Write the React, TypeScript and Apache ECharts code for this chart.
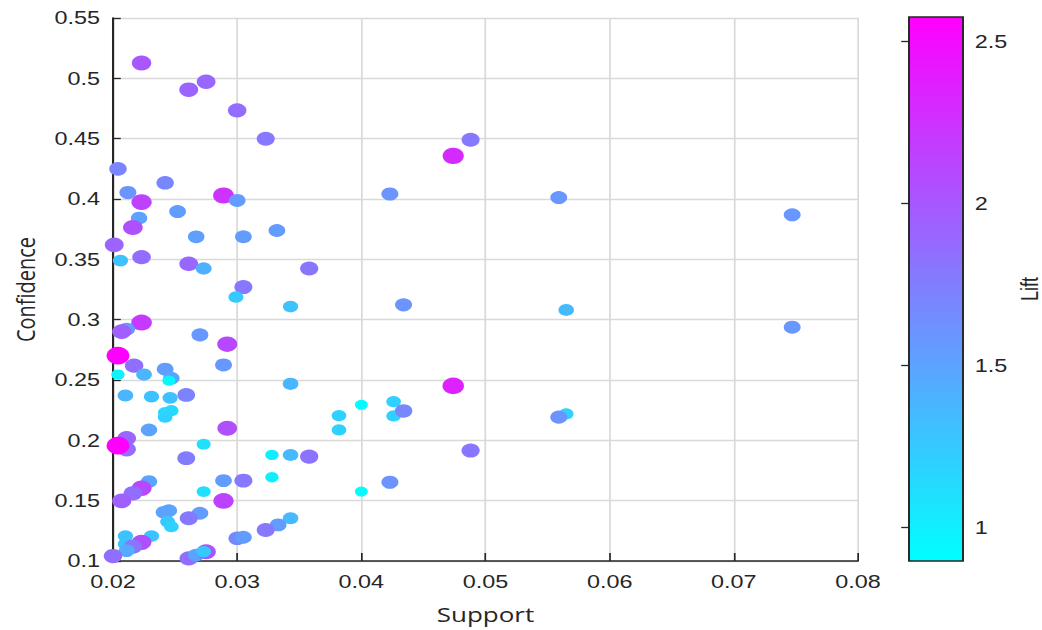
import React, { useEffect, useRef } from "react";
import * as echarts from "echarts";

const support = [
  0.0223, 0.0261, 0.0275, 0.0300, 0.0323, 0.0488, 0.0474, 0.0204, 0.0212, 0.0242,
  0.0223, 0.0289, 0.0300, 0.0423, 0.0559, 0.0747, 0.0221, 0.0252, 0.0216, 0.0267,
  0.0305, 0.0332, 0.0201, 0.0206, 0.0223, 0.0261, 0.0273, 0.0358, 0.0305, 0.0299,
  0.0343, 0.0434, 0.0565, 0.0747, 0.0223, 0.0211, 0.0207, 0.0270, 0.0292, 0.0204,
  0.0217, 0.0289, 0.0204, 0.0225, 0.0242, 0.0247, 0.0245, 0.0343, 0.0474, 0.0210,
  0.0231, 0.0246, 0.0259, 0.0400, 0.0426, 0.0382, 0.0426, 0.0434, 0.0382, 0.0565,
  0.0559, 0.0247, 0.0242, 0.0242, 0.0229, 0.0292, 0.0211, 0.0211, 0.0204, 0.0273,
  0.0328, 0.0343, 0.0358, 0.0488, 0.0259, 0.0328, 0.0289, 0.0305, 0.0229, 0.0223,
  0.0216, 0.0273, 0.0423, 0.0400, 0.0207, 0.0289, 0.0245, 0.0241, 0.0244, 0.0247,
  0.0270, 0.0261, 0.0343, 0.0333, 0.0323, 0.0300, 0.0305, 0.0210, 0.0231, 0.0223,
  0.0210, 0.0216, 0.0211, 0.0200, 0.0261, 0.0267, 0.0275, 0.0273,
];

const confidence = [
  0.5127, 0.4906, 0.4972, 0.4734, 0.4499, 0.4491, 0.4358, 0.4250, 0.4054, 0.4134,
  0.3974, 0.4029, 0.3988, 0.4041, 0.4012, 0.3869, 0.3842, 0.3896, 0.3764, 0.3687,
  0.3687, 0.3739, 0.3620, 0.3490, 0.3518, 0.3463, 0.3424, 0.3424, 0.3270, 0.3187,
  0.3109, 0.3123, 0.3081, 0.2938, 0.2976, 0.2921, 0.2901, 0.2874, 0.2797, 0.2702,
  0.2619, 0.2625, 0.2545, 0.2545, 0.2590, 0.2515, 0.2495, 0.2468, 0.2451, 0.2371,
  0.2362, 0.2352, 0.2376, 0.2294, 0.2321, 0.2205, 0.2202, 0.2244, 0.2086, 0.2219,
  0.2192, 0.2246, 0.2230, 0.2192, 0.2086, 0.2100, 0.2017, 0.1926, 0.1956, 0.1968,
  0.1879, 0.1879, 0.1865, 0.1915, 0.1852, 0.1694, 0.1666, 0.1666, 0.1658, 0.1603,
  0.1561, 0.1575, 0.1653, 0.1575, 0.1498, 0.1498, 0.1417, 0.1404, 0.1326, 0.1284,
  0.1396, 0.1354, 0.1354, 0.1299, 0.1257, 0.1188, 0.1197, 0.1207, 0.1207, 0.1155,
  0.1141, 0.1119, 0.1085, 0.1041, 0.1022, 0.1050, 0.1077, 0.1077,
];

const lift = [
  2.0, 1.92, 1.9, 1.85, 1.78, 1.78, 2.3, 1.7, 1.6, 1.68,
  2.15, 2.25, 1.55, 1.6, 1.58, 1.58, 1.5, 1.55, 2.05, 1.52,
  1.55, 1.55, 1.92, 1.3, 1.85, 1.9, 1.42, 1.8, 1.78, 1.25,
  1.3, 1.6, 1.35, 1.58, 2.2, 1.55, 1.95, 1.58, 2.1, 2.576,
  1.85, 1.58, 0.98, 1.38, 1.55, 1.5, 0.95, 1.38, 2.35, 1.38,
  1.3, 1.3, 1.72, 0.92, 1.2, 1.2, 1.2, 1.68, 1.2, 1.2,
  1.6, 1.15, 1.15, 1.2, 1.5, 2.05, 1.9, 1.85, 2.576, 1.1,
  1.0, 1.35, 1.82, 1.8, 1.75, 1.0, 1.55, 1.78, 1.5, 2.1,
  1.85, 1.1, 1.6, 0.92, 1.95, 2.15, 1.5, 1.5, 1.25, 1.2,
  1.55, 1.78, 1.35, 1.55, 1.78, 1.68, 1.55, 1.3, 1.3, 2.05,
  1.3, 1.8, 1.45, 1.85, 1.85, 1.5, 2.0, 1.25,
];

const supportTicks = { min: 0.02, max: 0.08, interval: 0.01 };
const confidenceTicks = { min: 0.1, max: 0.55, interval: 0.05 };
const liftRange = { min: 0.897, max: 2.576 };
const liftTickValues = [1, 1.5, 2, 2.5];

const K = 1042 / 802;
const TXT = "#262626";

export default function App() {
  const ref = useRef<HTMLDivElement>(null);

  useEffect(() => {
    if (!ref.current) return;
    const chart = echarts.init(ref.current, null, { renderer: "svg" });
    const data = support.map((s, i) => [s, confidence[i], lift[i]]);
    const fmt = (v: number) => String(+Number(v).toFixed(3));
    const labelStyle = {
      fontSize: 18,
      fontFamily: "Liberation Sans, Arial, sans-serif",
      color: TXT,
    };
    const nameStyle = {
      fontSize: 20,
      fontFamily: "Open Sans, sans-serif",
      color: TXT,
    };

    chart.setOption({
      animation: false,
      backgroundColor: "#ffffff",
      grid: [
        {
          left: 113 / K,
          right: 802 - 858 / K,
          top: 18,
          bottom: 69,
          outerBoundsMode: "none",
          containLabel: false,
        },
        {
          left: 909 / K,
          width: 54 / K,
          top: 17,
          bottom: 69,
          outerBoundsMode: "none",
          containLabel: false,
          show: true,
          backgroundColor: new echarts.graphic.LinearGradient(0, 0, 0, 1, [
            { offset: 0, color: "#ff00ff" },
            { offset: 1, color: "#00ffff" },
          ]),
          borderColor: TXT,
          borderWidth: 1.5,
        },
      ],
      visualMap: {
        type: "continuous",
        show: false,
        dimension: 2,
        seriesIndex: 0,
        min: liftRange.min,
        max: liftRange.max,
        inRange: { color: ["#00ffff", "#ff00ff"] },
      },
      xAxis: [
        {
          type: "value",
          gridIndex: 0,
          min: supportTicks.min,
          max: supportTicks.max,
          interval: supportTicks.interval,
          name: "Support",
          nameLocation: "middle",
          nameGap: 43,
          nameTextStyle: nameStyle,
          axisLine: { show: true, onZero: false, lineStyle: { color: TXT, width: 1.6 } },
          axisTick: { show: true, inside: true, length: 8, lineStyle: { color: TXT, width: 1.3 } },
          axisLabel: { ...labelStyle, margin: 12, formatter: fmt },
          splitLine: { show: true, lineStyle: { color: "#d9d9d9", width: 1.3 } },
        },
        {
          type: "value",
          gridIndex: 1,
          min: 0,
          max: 1,
          show: false,
        },
      ],
      yAxis: [
        {
          type: "value",
          gridIndex: 0,
          min: confidenceTicks.min,
          max: confidenceTicks.max,
          interval: confidenceTicks.interval,
          name: "Confidence",
          nameLocation: "middle",
          nameGap: 58,
          nameTextStyle: nameStyle,
          axisLine: { show: true, onZero: false, lineStyle: { color: TXT, width: 1.6 } },
          axisTick: { show: true, inside: true, length: 6, lineStyle: { color: TXT, width: 1.3 } },
          axisLabel: { ...labelStyle, margin: 10, formatter: fmt },
          splitLine: { show: true, lineStyle: { color: "#d9d9d9", width: 1.3 } },
        },
        {
          type: "value",
          gridIndex: 1,
          position: "right",
          min: liftRange.min,
          max: liftRange.max,
          name: "Lift",
          nameLocation: "middle",
          nameRotate: 90,
          nameGap: 42,
          nameTextStyle: { ...labelStyle, fontSize: 18 },
          axisLine: { show: false },
          axisTick: {
            show: true,
            inside: true,
            length: 6,
            customValues: liftTickValues,
            lineStyle: { color: TXT, width: 1.3 },
          },
          axisLabel: { ...labelStyle, margin: 9, customValues: liftTickValues, formatter: fmt },
          splitLine: { show: false },
        },
      ],
      series: [
        {
          type: "scatter",
          xAxisIndex: 0,
          yAxisIndex: 0,
          data,
          symbol: "circle",
          symbolSize: (v: number[]) => 10 + (v[2] - 0.92) * 4.6,
          clip: false,
          itemStyle: { opacity: 1 },
        },
      ],
    });

    return () => chart.dispose();
  }, []);

  return (
    <div
      ref={ref}
      style={{
        position: "absolute",
        left: 0,
        top: 0,
        width: 802,
        height: 630,
        transform: `scaleX(${K})`,
        transformOrigin: "0 0",
        background: "#fff",
      }}
    />
  );
}
